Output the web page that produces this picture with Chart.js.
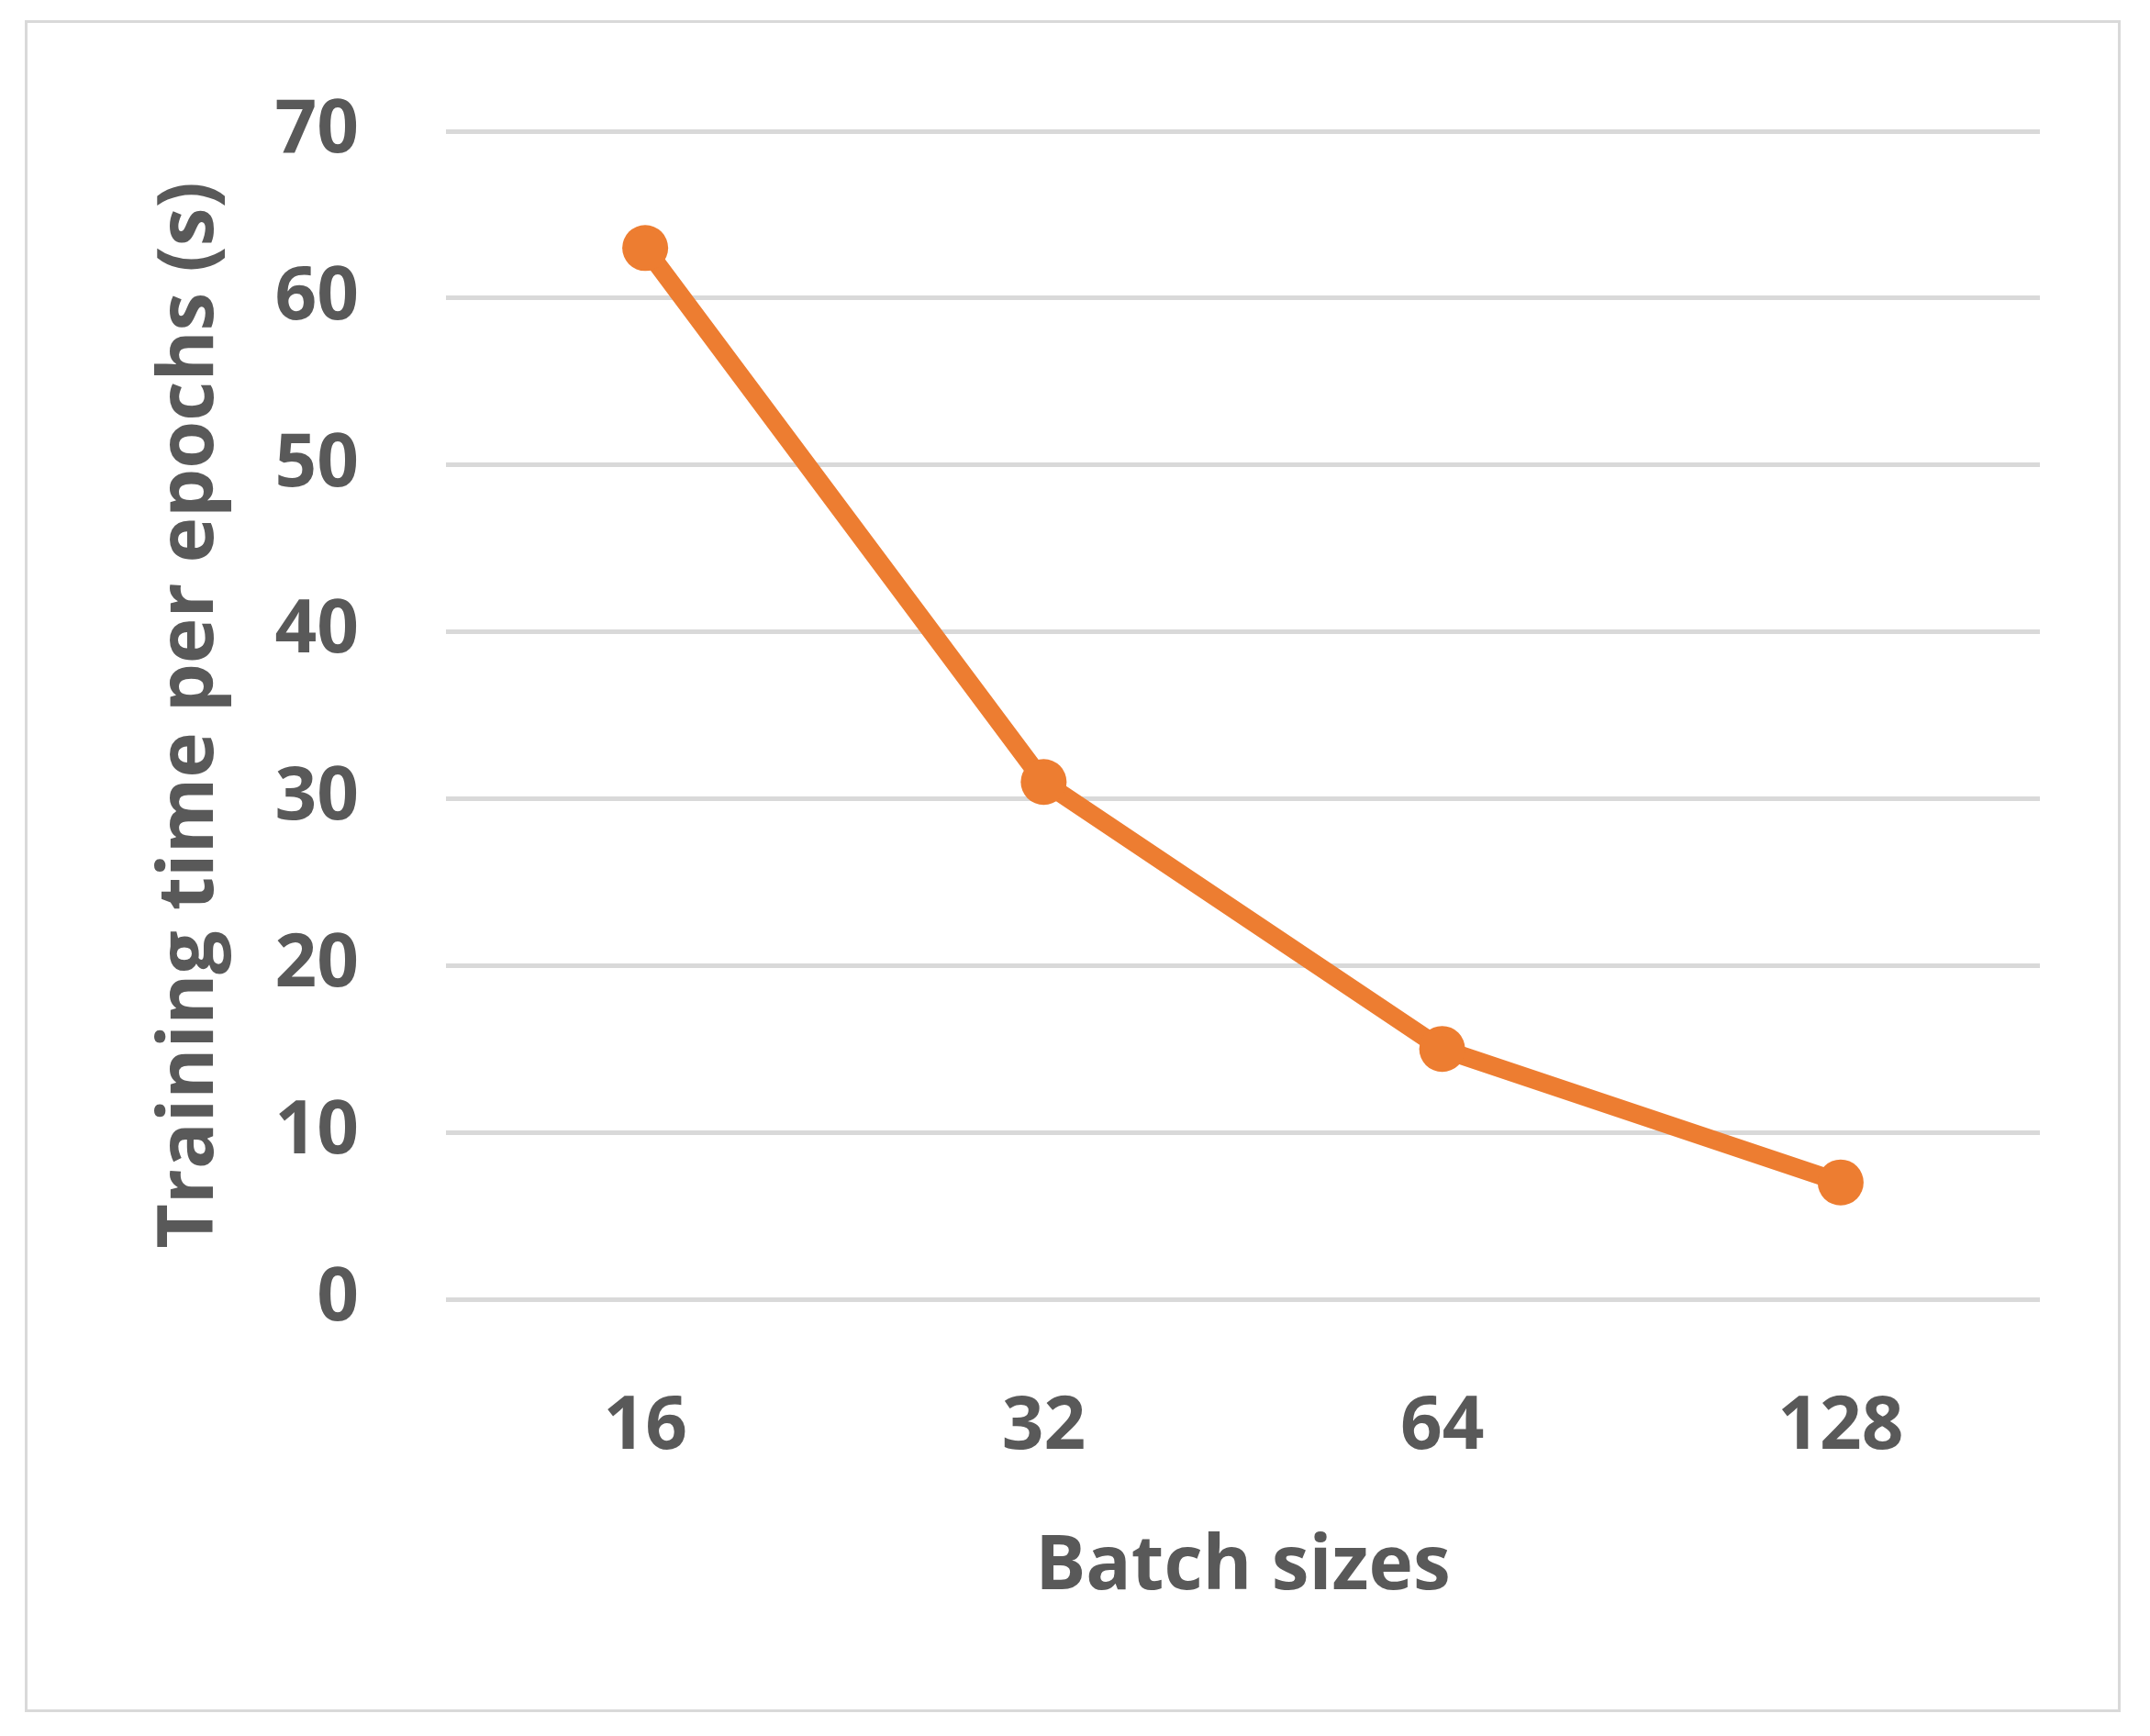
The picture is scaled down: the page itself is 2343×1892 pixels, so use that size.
<!DOCTYPE html>
<html>
<head>
<meta charset="utf-8">
<script src="https://cdn.jsdelivr.net/npm/chart.js@4"></script>
<style>
  html, body { margin: 0; padding: 0; background: #fff; }
  #wrap { position: relative; width: 2343px; height: 1892px; }
  #frame { position: absolute; left: 27px; top: 22px; width: 2284px; height: 1844px; border: 3px solid #d9d9d9; box-sizing: border-box; }
  canvas { position: absolute; left: 0; top: 0; }
</style>
</head>
<body>
<div id="wrap">
  <div id="frame"></div>
  <canvas id="chart" width="2343" height="1892"></canvas>
</div>
<script>
const batchSizes = ['16', '32', '64', '128'];
const trainingTimes = [63, 31, 15, 7];
const yTicks = [0, 10, 20, 30, 40, 50, 60, 70];

const textColor = '#595959';
const fontFamily = '"Open Sans", "Liberation Sans", sans-serif';

new Chart(document.getElementById('chart').getContext('2d'), {
    type: 'line',
    data: {
        labels: batchSizes,
        datasets: [{
            data: trainingTimes,
            borderColor: '#ed7d31',
            backgroundColor: '#ed7d31',
            borderWidth: 20,
            pointRadius: 25,
            pointBorderWidth: 0,
            tension: 0
        }]
    },
    options: {
        responsive: false,
        animation: false,
        layout: { padding: { left: 158, top: 122, right: 120, bottom: 130 } },
        plugins: { legend: { display: false }, tooltip: { enabled: false } },
        scales: {
            x: {
                offset: true,
                grid: { display: false, drawTicks: false },
                border: { display: false },
                ticks: { color: textColor, padding: 92, font: { family: fontFamily, size: 80, weight: 'bold' } },
                title: { display: true, text: 'Batch sizes', color: textColor, padding: { top: 55 }, font: { family: fontFamily, size: 82, weight: 'bold' } },
                afterFit: function (scale) { scale.height = 346; }
            },
            y: {
                min: 0,
                max: 70,
                afterBuildTicks: function (scale) { scale.ticks = yTicks.map(v => ({ value: v })); },
                grid: { color: '#d9d9d9', lineWidth: 5, drawTicks: false },
                border: { display: false },
                ticks: { color: textColor, padding: 95, font: { family: fontFamily, size: 80, weight: 'bold' } },
                title: { display: true, text: 'Training time per epochs (s)', color: textColor, padding: 0, font: { family: fontFamily, size: 84, weight: 'bold' } },
                afterFit: function (scale) { scale.width = 328; }
            }
        }
    }
});
</script>
</body>
</html>
